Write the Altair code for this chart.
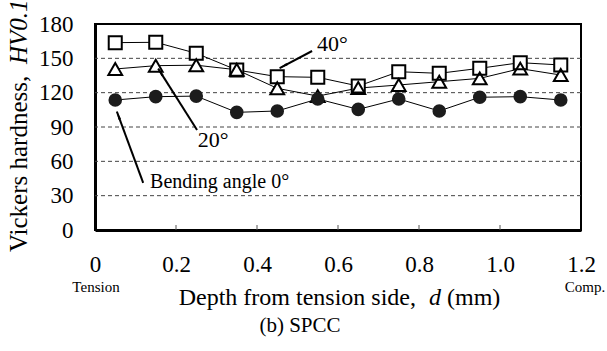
import math
import altair as alt
import pandas as pd

# ---------------- data ----------------
depth = [0.05, 0.15, 0.25, 0.35, 0.45, 0.55, 0.65, 0.75, 0.85, 0.95, 1.05, 1.15]
hv_0 = [113.6, 116.5, 117.0, 102.8, 104.0, 114.5, 105.4, 114.5, 104.0, 116.0, 116.5, 113.6]
hv_20 = [140.7, 143.6, 144.0, 140.0, 123.8, 117.0, 124.0, 126.7, 129.6, 132.5, 141.0, 135.4]
hv_40 = [163.7, 164.0, 154.4, 139.8, 134.0, 133.4, 125.8, 138.3, 136.9, 141.3, 146.2, 144.2]
series = ["0", "20", "40"]

x_ticks = [0, 0.2, 0.4, 0.6, 0.8, 1.0, 1.2]
y_ticks = [0, 30, 60, 90, 120, 150, 180]
grid_y = [30, 60, 90, 120, 150]
minor_x = [0.2, 0.4, 0.6, 0.8, 1.0]

# annotations: label, text anchor (data), arrow start/end (data)
ann_text = ["40°", "20°", "Bending angle 0°"]
ann_tx = [0.548, 0.254, 0.136]
ann_ty = [162.5, 78.6, 41.9]
arr_x1 = [0.536, 0.252, 0.119]
arr_y1 = [156.4, 87.4, 41.1]
arr_x2 = [0.456, 0.156, 0.054]
arr_y2 = [141.5, 141.0, 103.5]

W, H = 486, 206
FONT = "Times New Roman, Liberation Serif, serif"

rows = []
for name, vals in zip(series, [hv_0, hv_20, hv_40]):
    for d, v in zip(depth, vals):
        rows.append({"series": name, "depth": d, "hv": v})
df = pd.DataFrame(rows)

xs = alt.Scale(domain=[0, 1.2], nice=False, zero=False)
ys = alt.Scale(domain=[0, 180], nice=False)

AX = dict(values=x_ticks, title=None, grid=False, ticks=False, labelOverlap=False,
          labelExpr="datum.value == 0 ? '0' : format(datum.value, '.1f')",
          labelFont=FONT, labelFontSize=23, labelColor="black", labelPadding=23,
          domainColor="black", domainWidth=3, labelFlush=False)
AY = dict(values=y_ticks, title=None, grid=False, ticks=False, labelOverlap=False,
          labelFont=FONT, labelFontSize=23, labelColor="black", labelPadding=22,
          domainColor="black", domainWidth=3, labelFlush=False)


def qx(field):
    return alt.X(field, type="quantitative", scale=xs, axis=alt.Axis(**AX))


def qy(field):
    return alt.Y(field, type="quantitative", scale=ys, axis=alt.Axis(**AY))


base = alt.Chart(df)

grid_df = pd.DataFrame({"g": grid_y})
grid = alt.Chart(grid_df).mark_rule(color="#444", strokeWidth=1, strokeDash=[4, 3]).encode(
    y=qy("g"))

lines = base.mark_line(color="black", strokeWidth=1).encode(
    x=qx("depth"), y=qy("hv"), detail="series:N")

shapes = {"20": "triangle-up", "40": "square"}
sizes = {"20": 190, "40": 170}
knock = []
strokes = []
for s in ["40", "20"]:
    sub = base.transform_filter(alt.datum.series == s)
    knock.append(sub.mark_point(shape=shapes[s], size=sizes[s], filled=True,
                                color="white", opacity=1).encode(x=qx("depth"), y=qy("hv")))
    strokes.append(sub.mark_point(shape=shapes[s], size=sizes[s], filled=False,
                                  color="black", strokeWidth=2, opacity=1).encode(x=qx("depth"), y=qy("hv")))
circles = base.transform_filter(alt.datum.series == "0").mark_point(
    shape="circle", size=185, filled=True, color="#1c1c1c", opacity=1).encode(x=qx("depth"), y=qy("hv"))

# minor inner ticks on x axis
tick_df = pd.DataFrame({"t": minor_x})
xticks = alt.Chart(tick_df).mark_rule(color="#555", strokeWidth=1).encode(
    x=qx("t"), y=alt.value(H), y2=alt.value(H - 5))

# arrows
def px(v):
    return v / 1.2 * W

def py(v):
    return H - v / 180 * H

head_size = 110
head_len = math.sqrt(head_size)
angles, hx, hy = [], [], []
for a, b, c, d in zip(arr_x1, arr_y1, arr_x2, arr_y2):
    dx, dy = px(c) - px(a), py(d) - py(b)
    L = math.hypot(dx, dy)
    ang = math.degrees(math.atan2(dx, -dy)) % 360
    angles.append(ang)
    cx = px(c) - dx / L * head_len / 2
    cy = py(d) - dy / L * head_len / 2
    hx.append(cx / W * 1.2)
    hy.append((H - cy) / H * 180)

arr_df = pd.DataFrame({"x1": arr_x1, "y1": arr_y1, "x2": arr_x2, "y2": arr_y2,
                       "hx": hx, "hy": hy, "ang": angles})
arrow_lines = alt.Chart(arr_df).mark_rule(color="black", strokeWidth=2).encode(
    x=qx("x1"), y=qy("y1"), x2="x2:Q", y2="y2:Q")
arrow_heads = alt.Chart(arr_df).mark_point(shape="wedge", size=head_size, filled=True,
                                           color="black", opacity=1).encode(
    x=qx("hx"), y=qy("hy"),
    angle=alt.Angle("ang:Q", scale=None))

ann_df = pd.DataFrame({"t": ann_text, "x": ann_tx, "y": ann_ty,
                       "fs": [22, 22, 20]})
ann = alt.Chart(ann_df).mark_text(font=FONT, align="left", baseline="middle",
                                  color="black").encode(
    x=qx("x"), y=qy("y"), text="t:N",
    size=alt.Size("fs:Q", scale=None, legend=None))

def label(txt, x, y, size, angle=0, align="center", style="normal"):
    kw = dict(text=txt, font=FONT, fontSize=size, align=align, baseline="middle",
              color="black", fontStyle=style)
    if angle:
        kw["angle"] = angle
    return alt.Chart(pd.DataFrame({"a": [0]})).mark_text(**kw).encode(
        x=alt.value(x), y=alt.value(y))

texts = [
    label("Vickers hardness,", -76, 228, 25, angle=270, align="left"),
    label("HV0.1", -76, 40, 25, angle=270, align="left", style="italic"),
    label("Depth from tension side,", 321, 274, 24, align="right"),
    label("d", 340, 274, 24, style="italic"),
    label("(mm)", 352, 274, 24, align="left"),
    label("Tension", 1, 263, 15),
    label("Comp.", 490, 263, 15),
    label("(b) SPCC", 205, 302, 21),
]

chart = alt.layer(grid, lines, xticks, *knock, *strokes, circles, arrow_lines, arrow_heads, ann, *texts).properties(
    width=W, height=H,
    autosize=alt.AutoSizeParams(type="none"),
    padding={"left": 95, "top": 24, "right": 26, "bottom": 121},
    background="white",
).configure_view(stroke="black", strokeWidth=2)

chart.save("out.html", embed_options={"renderer": "svg", "actions": False})
